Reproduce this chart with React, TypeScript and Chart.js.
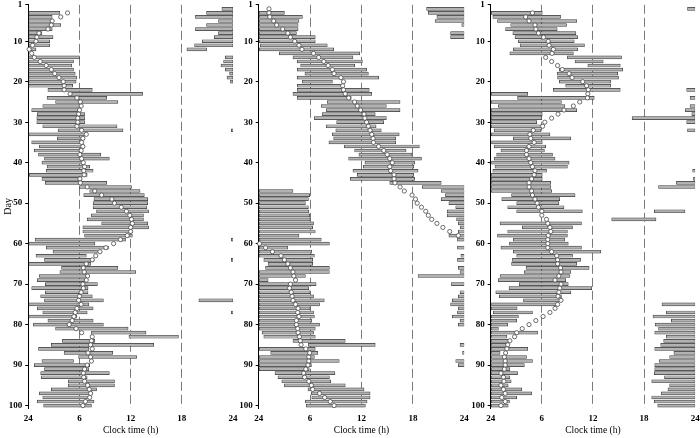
import React, { useEffect, useRef } from 'react';
import { Chart, registerables } from 'chart.js';

Chart.register(...registerables);

type Seg = [number, number, number]; // [day, start hour, end hour]
type Pt = [number, number]; // [day, hour]

const DAY_TICKS = [1, 10, 20, 30, 40, 50, 60, 70, 80, 90, 100];
const HOUR_TICKS = [0, 6, 12, 18, 24];
const HOUR_LABELS = ['24', '6', '12', '18', '24'];
const X_TITLE = 'Clock time (h)';
const Y_TITLE = 'Day';

const P1_SLEEP: Seg[] = [
  [2, 22.7, 24],
  [3, 0, 3.7], [3, 20.9, 24],
  [4, 0, 2.8], [4, 19.6, 24],
  [5, 0, 2.8], [5, 22.3, 24],
  [6, 0, 3.8], [6, 20.9, 24],
  [7, 0, 2.8], [7, 19.6, 24],
  [8, 0, 1.6], [8, 22.3, 24],
  [9, 0, 2.9], [9, 21.8, 24],
  [10, 0, 2.5], [10, 20.4, 24],
  [11, 0, 2.5], [11, 19.5, 24],
  [12, 0, 0.9], [12, 18.6, 20.9],
  [14, 0, 6.0], [14, 23.1, 24],
  [15, 0, 5.3], [15, 22.9, 24],
  [16, 0, 5.1], [16, 22.6, 24],
  [17, 0, 5.3], [17, 23.1, 24],
  [18, 0, 5.5], [18, 23.6, 24],
  [19, 0, 5.7], [19, 23.3, 24],
  [20, 0, 5.6], [20, 23.7, 24],
  [21, 0, 5.2],
  [22, 2.3, 7.5],
  [23, 4.9, 13.4],
  [24, 2.2, 9.2],
  [25, 3.2, 10.5],
  [26, 1.7, 6.1],
  [27, 0.4, 6.1],
  [28, 1.05, 6.6],
  [29, 1.0, 6.6],
  [30, 1.0, 6.6],
  [31, 1.7, 10.4],
  [32, 3.5, 11.1], [32, 23.8, 24],
  [33, 0, 6.8],
  [34, 3.4, 6.6],
  [35, 0.4, 6.25],
  [36, 1.3, 6.6],
  [37, 0.7, 6.25],
  [38, 1.2, 8.5],
  [39, 1.9, 9.5],
  [40, 1.6, 6.4],
  [41, 2.2, 7.2],
  [42, 2.1, 7.6],
  [43, 0.1, 6.9],
  [44, 1.6, 6.25],
  [45, 2.0, 6.05], [45, 6.25, 9.2],
  [46, 6.0, 12.1],
  [47, 7.2, 13.1],
  [48, 6.5, 13.6],
  [49, 7.7, 14.0],
  [50, 7.6, 14.0],
  [51, 7.6, 13.9],
  [52, 8.0, 14.1],
  [53, 7.4, 13.5],
  [54, 6.9, 13.5],
  [55, 8.6, 14.0],
  [56, 6.4, 14.1],
  [57, 6.4, 12.2],
  [58, 6.6, 12.2],
  [59, 0.8, 11.4], [59, 23.8, 24],
  [60, 0, 7.8],
  [61, 2.1, 9.4],
  [62, 2.9, 8.1],
  [63, 0.9, 6.8],
  [64, 1.9, 7.7], [64, 23.8, 24],
  [65, 0, 7.3],
  [66, 3.9, 10.5],
  [67, 3.7, 12.6],
  [68, 1.3, 7.1],
  [69, 1.05, 6.6],
  [70, 2.0, 8.1],
  [71, 0.4, 7.0],
  [72, 2.0, 7.0],
  [73, 1.45, 7.5],
  [74, 1.9, 8.8], [74, 20.0, 24],
  [75, 0, 7.1],
  [76, 1.05, 7.6],
  [77, 1.7, 6.9], [77, 23.8, 24],
  [78, 0, 5.7],
  [79, 2.3, 7.6],
  [80, 0.6, 8.8],
  [81, 3.2, 11.7],
  [82, 7.4, 13.8],
  [83, 11.8, 17.6],
  [84, 4.0, 7.8],
  [85, 2.7, 14.7],
  [86, 1.2, 7.1],
  [87, 4.2, 9.9],
  [88, 5.9, 12.7],
  [89, 1.6, 5.3],
  [90, 0.7, 7.2],
  [91, 1.9, 7.1],
  [92, 1.45, 9.5],
  [93, 1.5, 6.9],
  [94, 4.7, 10.1],
  [95, 4.7, 10.1],
  [96, 2.7, 8.0],
  [97, 1.3, 7.5],
  [98, 1.7, 7.1],
  [99, 1.05, 7.7],
  [100, 1.8, 7.4],
];

const P1_PHASE: Pt[] = [
  [3, 4.6], [4, 3.8], [5, 2.8], [6, 2.7], [7, 2.3], [8, 1.25], [9, 1.0], [10, 0.9],
  [11, 0.5], [12, 0.1], [13, 0.4], [14, 0.7], [15, 1.4], [16, 2.1], [17, 2.7], [18, 3.1],
  [19, 3.6], [20, 4.1], [21, 4.2], [22, 4.2], [23, 4.9], [24, 5.7], [25, 6.1], [26, 6.2],
  [27, 6.0], [28, 5.9], [29, 5.8], [30, 5.8], [31, 5.7], [32, 6.25], [33, 6.8], [34, 6.4],
  [35, 6.25], [36, 6.4], [37, 6.2], [38, 6.05], [39, 6.25], [40, 6.45], [41, 6.6], [42, 6.5],
  [43, 6.55], [44, 6.05], [45, 6.1], [46, 6.9], [47, 7.8], [48, 8.6], [49, 9.8], [50, 10.1],
  [51, 10.9], [52, 11.5], [53, 11.9], [54, 12.1], [55, 12.2], [56, 12.0], [57, 12.0], [58, 11.6],
  [59, 10.8], [60, 10.0], [61, 9.1], [62, 8.4], [63, 7.9], [64, 7.5], [65, 6.8], [66, 6.45],
  [67, 6.55], [68, 6.95], [69, 6.8], [70, 6.4], [71, 6.45], [72, 6.2], [73, 6.0], [74, 5.9],
  [75, 6.2], [76, 5.7], [77, 5.5], [78, 5.35], [79, 5.15], [80, 4.8], [81, 5.6], [82, 6.25],
  [83, 7.5], [84, 7.4], [85, 7.3], [86, 7.5], [87, 7.0], [88, 7.3], [89, 7.4], [90, 6.9],
  [91, 6.6], [92, 6.45], [93, 6.5], [94, 6.6], [95, 6.95], [96, 7.15], [97, 7.3], [98, 7.2],
  [99, 6.7], [100, 6.4],
];

const P2_SLEEP: Seg[] = [
  [2, 19.6, 24],
  [3, 0, 3.0], [3, 19.8, 24],
  [4, 0, 5.1], [4, 20.8, 24],
  [5, 0, 4.7], [5, 20.6, 24],
  [6, 0, 4.6], [6, 23.7, 24],
  [7, 0, 4.6],
  [8, 0, 4.4], [8, 22.4, 24],
  [9, 0, 6.6], [9, 22.4, 24],
  [10, 0, 6.6],
  [11, 0.2, 8.0],
  [12, 0, 8.75],
  [13, 2.4, 11.8],
  [14, 4.0, 11.0],
  [15, 4.5, 12.1],
  [16, 4.9, 11.2],
  [17, 4.5, 12.6],
  [18, 5.4, 12.8],
  [19, 4.5, 14.0],
  [20, 5.1, 8.6],
  [21, 4.5, 9.8],
  [22, 4.5, 12.9],
  [23, 4.0, 13.2],
  [24, 4.5, 10.8],
  [25, 8.0, 16.5],
  [26, 7.3, 14.9],
  [27, 7.9, 16.5],
  [28, 7.4, 13.6],
  [29, 6.5, 14.9],
  [30, 9.1, 14.6],
  [31, 7.9, 13.7],
  [32, 9.0, 14.3],
  [33, 8.6, 16.4],
  [34, 8.75, 16.0],
  [35, 8.2, 16.0],
  [36, 10.0, 18.75],
  [37, 11.2, 17.2],
  [38, 11.7, 17.9],
  [39, 10.5, 19.0],
  [40, 12.4, 18.2],
  [41, 12.2, 18.1],
  [42, 11.0, 18.6],
  [43, 11.5, 18.1],
  [44, 10.7, 18.2],
  [45, 15.3, 21.3],
  [46, 19.1, 24],
  [47, 0, 4.0], [47, 21.3, 24],
  [48, 0, 5.95], [48, 21.8, 24],
  [49, 0, 5.8], [49, 21.3, 24],
  [50, 0, 5.45], [50, 22.2, 24],
  [51, 0, 5.8], [51, 23.0, 24],
  [52, 0, 5.85], [52, 22.0, 24],
  [53, 0, 5.95], [53, 22.0, 24],
  [54, 0, 6.0], [54, 23.1, 24],
  [55, 0, 6.4], [55, 23.3, 24],
  [56, 0, 6.3], [56, 23.5, 24],
  [57, 0, 6.6], [57, 23.3, 24],
  [58, 0, 4.7], [58, 22.2, 24],
  [59, 0, 7.3], [59, 23.2, 24],
  [60, 0, 8.25],
  [61, 0, 3.4], [61, 23.2, 24],
  [62, 0, 6.2],
  [63, 0, 6.5], [63, 23.6, 24],
  [64, 0.6, 6.3], [64, 23.2, 24],
  [65, 1.1, 6.3],
  [66, 0.8, 8.25], [66, 23.3, 24],
  [67, 0, 8.25], [67, 23.5, 24],
  [68, 0, 5.45], [68, 18.6, 24],
  [69, 0, 1.1],
  [70, 0, 6.7], [70, 22.5, 24],
  [71, 0, 5.85],
  [72, 0, 6.0], [72, 23.5, 24],
  [73, 0, 6.4], [73, 23.3, 24],
  [74, 0, 7.65], [74, 22.6, 24],
  [75, 0, 7.1], [75, 22.4, 24],
  [76, 0, 6.0], [76, 23.3, 24],
  [77, 0, 6.4], [77, 23.2, 24],
  [78, 0, 6.5], [78, 22.6, 24],
  [79, 0, 6.2], [79, 23.5, 24],
  [80, 0, 7.1], [80, 23.3, 24],
  [81, 0, 6.6],
  [82, 0.4, 6.4],
  [83, 0.6, 6.6],
  [84, 4.0, 10.1],
  [85, 5.8, 13.6], [85, 23.5, 24],
  [86, 0, 6.6],
  [87, 1.4, 6.9], [87, 23.8, 24],
  [88, 0, 6.5],
  [89, 0, 9.4], [89, 23.0, 24],
  [90, 0, 6.15], [90, 23.3, 24],
  [91, 0, 5.9],
  [92, 1.9, 8.9],
  [93, 2.25, 8.25],
  [94, 2.7, 8.4],
  [95, 3.0, 10.1],
  [96, 5.75, 12.3],
  [97, 6.15, 13.0],
  [98, 6.2, 13.0],
  [99, 5.45, 12.65],
  [100, 5.55, 12.45],
];

const P2_PHASE: Pt[] = [
  [2, 1.2], [3, 1.2], [4, 1.3], [5, 1.75], [6, 2.1], [7, 2.8], [8, 3.4], [9, 3.7],
  [10, 4.2], [11, 4.7], [12, 5.05], [13, 6.4], [14, 7.0], [15, 7.6], [16, 8.1], [17, 8.6],
  [18, 8.8], [19, 9.6], [20, 9.9], [21, 9.8], [22, 9.9], [23, 10.1], [24, 10.5], [25, 11.2],
  [26, 11.5], [27, 11.9], [28, 12.3], [29, 12.4], [30, 12.6], [31, 12.8], [32, 13.0], [33, 13.2],
  [34, 13.35], [35, 13.4], [36, 14.0], [37, 14.6], [38, 15.0], [39, 15.3], [40, 15.6], [41, 15.3],
  [42, 15.4], [43, 15.8], [44, 15.8], [45, 15.9], [46, 16.5], [47, 17.0], [48, 17.9], [49, 18.3],
  [50, 18.5], [51, 19.0], [52, 19.5], [53, 19.8], [54, 20.2], [55, 20.8], [56, 21.5], [57, 22.3],
  [58, 23.3], [60, 0.1], [61, 0.8], [62, 1.6], [63, 2.6], [64, 3.0], [65, 3.4], [66, 3.7],
  [67, 4.0], [68, 4.1], [69, 4.3], [70, 3.7], [71, 3.6], [72, 3.8], [73, 3.9], [74, 4.0],
  [75, 4.3], [76, 4.6], [77, 4.55], [78, 4.7], [79, 4.4], [80, 4.4], [81, 4.55], [82, 4.6],
  [83, 4.75], [84, 4.85], [85, 4.95], [86, 5.5], [87, 5.95], [88, 5.85], [89, 5.85], [90, 5.75],
  [91, 5.5], [92, 5.25], [93, 5.35], [94, 5.85], [95, 6.15], [96, 6.3], [97, 7.1], [98, 7.7],
  [99, 8.35], [100, 8.8],
];

const P3_SLEEP: Seg[] = [
  [2, 23.1, 24],
  [3, 0, 6.05],
  [4, 0.25, 8.2],
  [5, 0.8, 10.1],
  [6, 2.35, 8.9],
  [7, 1.75, 7.8],
  [8, 2.6, 10.0],
  [9, 2.85, 10.2],
  [10, 3.25, 9.8],
  [11, 3.45, 11.0],
  [12, 2.65, 10.2],
  [13, 2.25, 9.7],
  [14, 9.0, 15.35],
  [15, 9.9, 13.2],
  [16, 11.4, 15.2],
  [17, 8.05, 15.5],
  [18, 7.8, 14.9],
  [19, 7.85, 15.0],
  [20, 8.05, 14.1],
  [21, 8.8, 14.1],
  [22, 7.35, 15.2], [22, 23.0, 24],
  [23, 0, 4.35],
  [24, 3.15, 12.15], [24, 23.4, 24],
  [25, 0, 8.3],
  [26, 0.9, 8.7], [26, 23.4, 24],
  [27, 0, 10.1], [27, 22.85, 24],
  [28, 0, 6.05], [28, 23.6, 24],
  [29, 0, 6.0], [29, 16.6, 24],
  [30, 0, 5.4], [30, 23.0, 24],
  [31, 0, 6.2],
  [32, 0.4, 5.9], [32, 23.1, 24],
  [33, 0, 6.95],
  [34, 2.65, 9.4],
  [35, 0.1, 6.05],
  [36, 0.4, 6.45],
  [37, 1.2, 6.3],
  [38, 0.7, 7.25],
  [39, 0.4, 7.55],
  [40, 0.1, 9.2],
  [41, 0.5, 9.0],
  [42, 0.25, 6.55], [42, 23.7, 24],
  [43, 0, 6.05],
  [44, 0, 6.05], [44, 23.8, 24],
  [45, 0, 7.05], [45, 21.8, 24],
  [46, 0, 7.05], [46, 19.7, 24],
  [47, 0, 7.15],
  [48, 2.45, 9.9],
  [49, 1.3, 8.1],
  [50, 3.05, 8.0],
  [51, 2.0, 8.6],
  [52, 3.05, 10.75], [52, 19.2, 22.8],
  [54, 14.2, 19.4],
  [55, 1.1, 10.65],
  [56, 3.7, 9.6],
  [57, 2.0, 9.0],
  [58, 0.8, 9.0],
  [59, 2.65, 8.7],
  [60, 2.2, 9.1],
  [61, 1.2, 10.65],
  [62, 2.65, 12.9],
  [63, 3.05, 9.6],
  [64, 2.55, 10.55],
  [65, 2.45, 10.1],
  [66, 4.15, 11.55],
  [67, 3.95, 9.4],
  [68, 1.1, 9.3],
  [69, 0.9, 8.8],
  [70, 3.35, 9.1],
  [71, 2.15, 11.85],
  [72, 0.6, 9.4],
  [73, 1.0, 8.3],
  [74, 3.85, 8.3],
  [75, 0.1, 8.0], [75, 20.1, 24],
  [76, 0, 3.1],
  [77, 0.3, 4.9], [77, 20.6, 24],
  [78, 0, 3.25], [78, 19.05, 24],
  [79, 0, 3.05], [79, 21.2, 24],
  [80, 0, 2.0], [80, 19.3, 24],
  [81, 0, 0.9], [81, 19.7, 24],
  [82, 0, 5.5], [82, 19.25, 24],
  [83, 0, 1.9], [83, 20.6, 24],
  [84, 0, 2.2], [84, 20.3, 24],
  [85, 0, 1.9], [85, 19.95, 24],
  [86, 0, 4.35], [86, 19.25, 24],
  [87, 0, 1.1], [87, 21.5, 24],
  [88, 0, 4.2], [88, 21.0, 24],
  [89, 0, 4.9], [89, 19.8, 24],
  [90, 0, 3.95], [90, 19.25, 24],
  [91, 0, 2.25], [91, 19.25, 24],
  [92, 0, 3.15], [92, 19.2, 24],
  [93, 0, 2.25], [93, 20.4, 24],
  [94, 0, 2.4], [94, 18.9, 24],
  [95, 0, 2.05], [95, 21.0, 24],
  [96, 0, 3.65], [96, 20.8, 24],
  [97, 0, 4.8], [97, 20.0, 24],
  [98, 0, 3.05], [98, 18.9, 24],
  [99, 0, 2.2], [99, 19.2, 24],
  [100, 0, 2.05], [100, 19.6, 24],
];

const P3_PHASE: Pt[] = [
  [3, 4.9], [4, 4.1], [5, 4.5], [6, 5.2], [7, 5.3], [8, 5.6], [9, 6.2], [10, 6.75],
  [11, 6.85], [12, 7.35], [13, 7.2], [14, 6.45], [15, 7.15], [16, 7.85], [17, 8.4], [18, 9.2],
  [19, 9.55], [20, 10.8], [21, 11.25], [22, 11.45], [23, 11.4], [24, 11.35], [25, 10.45], [26, 9.7],
  [27, 8.6], [28, 7.9], [29, 7.15], [30, 6.35], [31, 6.1], [32, 5.0], [33, 4.6], [34, 4.7],
  [35, 5.1], [36, 4.5], [37, 4.2], [38, 4.2], [39, 4.5], [40, 4.7], [41, 4.9], [42, 5.2],
  [43, 5.1], [44, 4.8], [45, 4.5], [46, 4.5], [47, 4.8], [48, 4.9], [49, 5.2], [50, 5.45],
  [51, 5.6], [52, 6.0], [53, 6.0], [54, 6.55], [55, 6.7], [56, 6.95], [57, 7.05], [58, 6.75],
  [59, 6.7], [60, 6.7], [61, 6.7], [62, 7.15], [63, 7.75], [64, 7.85], [65, 7.85], [66, 8.2],
  [67, 8.25], [68, 8.0], [69, 7.55], [70, 8.25], [71, 8.1], [72, 8.0], [73, 7.9], [74, 8.25],
  [75, 7.85], [76, 7.55], [77, 6.95], [78, 6.15], [79, 5.3], [80, 4.5], [81, 3.7], [82, 3.05],
  [83, 2.8], [84, 2.25], [85, 2.0], [86, 1.9], [87, 1.75], [88, 1.6], [89, 1.7], [90, 1.7],
  [91, 1.6], [92, 1.2], [93, 1.5], [94, 1.55], [95, 1.2], [96, 1.5], [97, 1.7], [98, 1.3],
  [99, 1.7], [100, 1.2],
];

const FONT = "'Liberation Serif', 'Times New Roman', serif";

interface PanelProps {
  sleep: Seg[];
  phase: Pt[];
  left: number;
  width: number;
  axisWidth: number;
  padRight: number;
  yTitle: string;
}

const PANELS: PanelProps[] = [
  { sleep: P1_SLEEP, phase: P1_PHASE, left: 0, width: 240, axisWidth: 28.3, padRight: 7, yTitle: Y_TITLE },
  { sleep: P2_SLEEP, phase: P2_PHASE, left: 240, width: 230, axisWidth: 18.7, padRight: 5.7, yTitle: '' },
  { sleep: P3_SLEEP, phase: P3_PHASE, left: 470, width: 230, axisWidth: 20.7, padRight: 4.3, yTitle: '' },
];

const H = 438;

function Panel(p: PanelProps) {
  const ref = useRef<HTMLCanvasElement | null>(null);
  useEffect(() => {
    if (!ref.current) return;
    const chart = new Chart(ref.current, {
      type: 'bar',
      data: {
        datasets: [
          {
            type: 'scatter',
            data: p.phase.map(([d, h]) => ({ x: h, y: d })),
            pointRadius: 2.1,
            pointBackgroundColor: '#ffffff',
            pointBorderColor: '#4a4a4a',
            pointBorderWidth: 0.8,
            order: 0,
            clip: false,
          } as any,
          {
            type: 'bar',
            data: p.sleep.map(([d, s, e]) => ({ x: [s, e], y: d })),
            backgroundColor: '#b2b2b2',
            borderColor: '#3a3a3a',
            borderWidth: 0.7,
            borderSkipped: false,
            barThickness: 3,
            grouped: false,
            order: 1,
          } as any,
        ],
      },
      options: {
        indexAxis: 'y',
        animation: false,
        responsive: false,
        events: [],
        layout: { padding: { top: 3, right: p.padRight, bottom: 0, left: 0 } },
        plugins: { legend: { display: false }, tooltip: { enabled: false } },
        scales: {
          x: {
            type: 'linear',
            position: 'bottom',
            min: 0,
            max: 24,
            offset: false,
            z: 1,
            afterBuildTicks: (s: any) => {
              s.ticks = HOUR_TICKS.map((v) => ({ value: v }));
            },
            afterFit: (s: any) => {
              s.height = 30;
              s.paddingLeft = 0;
              s.paddingRight = 0;
            },
            ticks: {
              autoSkip: false,
              maxRotation: 0,
              padding: 5,
              color: '#000',
              font: { family: FONT, size: 9, weight: 'bold' },
              callback: (_v: any, i: number) => HOUR_LABELS[i],
            },
            grid: {
              offset: false,
              drawTicks: false,
              tickLength: 0,
              color: (ctx: any) =>
                ctx.tick && ctx.tick.value > 0 && ctx.tick.value < 24 ? '#7a7a7a' : 'rgba(0,0,0,0)',
              lineWidth: 1,
            },
            border: { display: false, dash: [9, 4] },
            title: {
              display: true,
              text: X_TITLE,
              color: '#000',
              font: { family: FONT, size: 9.5 },
              padding: { top: 2, bottom: 2 },
            },
          },
          y: {
            type: 'linear',
            reverse: true,
            min: 1,
            max: 100.6,
            offset: false,
            afterBuildTicks: (s: any) => {
              s.ticks = DAY_TICKS.map((v) => ({ value: v }));
            },
            afterFit: (s: any) => {
              s.width = p.axisWidth;
              s.paddingTop = 0;
              s.paddingBottom = 0;
            },
            ticks: {
              autoSkip: false,
              padding: 3,
              color: '#000',
              font: { family: FONT, size: 9, weight: 'bold' },
            },
            grid: { offset: false, drawOnChartArea: false, tickLength: 3, tickColor: '#000' },
            border: { display: true, color: '#000', width: 1 },
            title: {
              display: !!p.yTitle,
              text: p.yTitle,
              color: '#000',
              font: { family: FONT, size: 10 },
              padding: { top: 2, bottom: 0 },
            },
          },
        },
      } as any,
    });
    return () => chart.destroy();
  }, []);
  return (
    <canvas
      ref={ref}
      width={p.width}
      height={H}
      style={{ position: 'absolute', left: p.left, top: 0, width: p.width, height: H }}
    />
  );
}

export default function App() {
  return (
    <div style={{ position: 'fixed', left: 0, top: 0, width: 700, height: H, background: '#fff' }}>
      {PANELS.map((p, i) => (
        <Panel key={i} {...p} />
      ))}
    </div>
  );
}
